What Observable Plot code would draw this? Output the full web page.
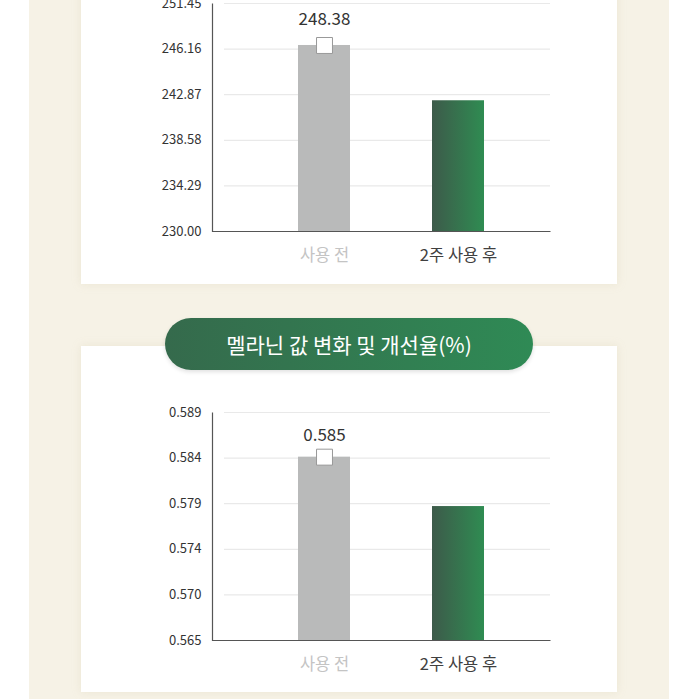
<!DOCTYPE html>
<html><head><meta charset="utf-8">
<script src="https://cdn.jsdelivr.net/npm/d3@7"></script>
<script src="https://cdn.jsdelivr.net/npm/@observablehq/plot@0.6"></script>
<style>
body{margin:0;width:699px;height:699px;overflow:hidden;background:#fff;position:relative;font-family:"Noto Sans CJK KR","Noto Sans",sans-serif;}
#cream{position:absolute;left:29px;top:0;width:640px;height:699px;background:#f6f2e6;}
.panel{position:absolute;left:81px;width:536px;background:#fff;box-shadow:0 0 8px rgba(215,205,175,0.35);}
#p1{top:-10px;height:294px;}
#p2{top:346px;height:346px;}
.chart{position:absolute;left:81px;}
#c1{top:-20px;}
#c2{top:346px;}
#pill{position:absolute;left:165px;top:318px;width:368px;height:52px;border-radius:26px;
 background:linear-gradient(90deg,#356a4c,#2f8a55);color:#fff;font-size:21px;line-height:52px;text-align:center;
 box-shadow:0 2px 4px rgba(0,0,0,0.12);}
</style></head><body>
<div id="cream"></div><div class="panel" id="p1"></div><div class="panel" id="p2"></div>
<div id="c1" class="chart"></div><div id="c2" class="chart"></div>
<div id="pill"></div>
<script>
const categories = ["사용 전", "2주 사용 후"];
const categoryColors = ["#c4c4c4", "#404040"];
const barColors = ["#b9baba", "gradient"];

const values1 = [247.5, 242.3];
const valueLabel1 = "248.38";
const yDomain1 = [230, 251.45];
const yTicks1 = [230, 234.29, 238.58, 242.87, 247.16, 251.45];
const yTickLabels1 = ["230.00", "234.29", "238.58", "242.87", "246.16", "251.45"];

const values2 = [0.5843, 0.5791];
const valueLabel2 = "0.585";
const yDomain2 = [0.565, 0.589];
const yTicks2 = [0.565, 0.5698, 0.5746, 0.5794, 0.5842, 0.589];
const yTickLabels2 = ["0.565", "0.570", "0.574", "0.579", "0.584", "0.589"];

const title2 = "멜라닌 값 변화 및 개선율(%)";
document.getElementById("pill").textContent = title2;

function makeChart({values, label, domain, ticks, tickLabels, marginTop, height, gradId, labelDy}) {
  const width = 536, marginLeft = 131, marginRight = 67, marginBottom = 40;
  const w = width - marginLeft - marginRight;
  const h = height - marginTop - marginBottom;
  const rows = categories.map((c, i) => ({
    cat: c, value: values[i],
    fill: barColors[i] === "gradient" ? `url(#${gradId})` : barColors[i],
    textColor: categoryColors[i]
  }));
  const svg = Plot.plot({
    width, height, marginLeft, marginRight, marginTop, marginBottom,
    style: {fontFamily: '"Noto Sans CJK KR","Noto Sans",sans-serif', fontSize: "13px", color: "#333", background: "transparent", overflow: "visible"},
    color: {type: "identity"},
    x: {domain: categories, axis: null, paddingInner: 0.615, paddingOuter: 0.56, align: 0.563},
    y: {domain, ticks, tickFormat: d => tickLabels[ticks.indexOf(d)], tickSize: 0, tickPadding: 11, label: null},
    marks: [
      Plot.ruleY(ticks.slice(1), {stroke: "#e9e9e9", strokeWidth: 1.2, insetLeft: 12}),
      Plot.barY(rows, {x: "cat", y1: () => domain[0], y2: "value", fill: "fill"}),
      Plot.frame({stroke: "#555", strokeWidth: 1.2, strokeDasharray: `0,${w + h},${w + h}`}),
      Plot.dot([rows[0]], {x: "cat", y: "value", symbol: "square", r: 9, fill: "#fff", stroke: "#999", strokeWidth: 1}),
      Plot.text([rows[0]], {x: "cat", y: "value", text: () => label, dy: labelDy, fontSize: 17, fill: "#333"}),
      Plot.text(rows, {x: "cat", text: "cat", frameAnchor: "bottom", lineAnchor: "middle", dy: 24, fill: "textColor", fontSize: 16.5})
    ]
  });
  const defs = d3.select(svg).insert("defs", ":first-child");
  const g = defs.append("linearGradient").attr("id", gradId).attr("x1", "0").attr("x2", "1").attr("y1", "0").attr("y2", "0");
  g.append("stop").attr("offset", "0%").attr("stop-color", "#3d5a4a");
  g.append("stop").attr("offset", "100%").attr("stop-color", "#2f8c52");
  return svg;
}

document.getElementById("c1").append(makeChart({
  values: values1, label: valueLabel1, domain: yDomain1, ticks: yTicks1, tickLabels: yTickLabels1,
  marginTop: 23, height: 291, gradId: "gradA", labelDy: -26
}));
document.getElementById("c2").append(makeChart({
  values: values2, label: valueLabel2, domain: yDomain2, ticks: yTicks2, tickLabels: yTickLabels2,
  marginTop: 66, height: 334, gradId: "gradB", labelDy: -22
}));
</script>
</body></html>
